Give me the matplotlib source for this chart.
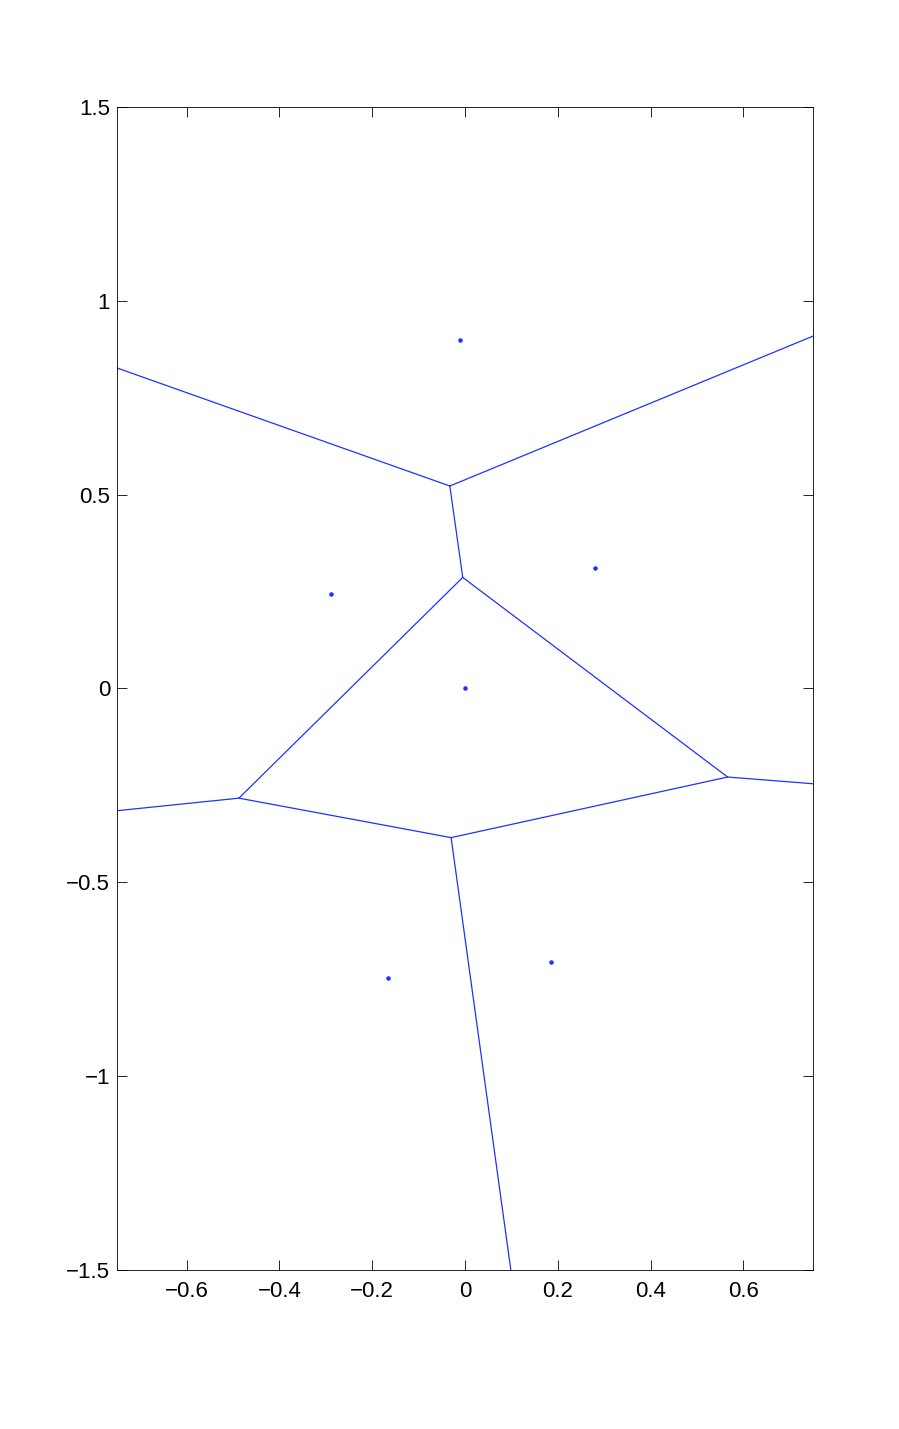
import matplotlib
matplotlib.use("Agg")
import matplotlib.pyplot as plt
import numpy as np
from itertools import combinations

# Voronoi sites
site_x = [0.0, -0.010, 0.2805, -0.288, -0.166, 0.185]
site_y = [0.0, 0.899, 0.311, 0.244, -0.746, -0.7055]

x_ticks = [-0.6, -0.4, -0.2, 0, 0.2, 0.4, 0.6]
y_ticks = [-1.5, -1, -0.5, 0, 0.5, 1, 1.5]


def circumcenter(a, b, c):
    d = 2 * (a[0] * (b[1] - c[1]) + b[0] * (c[1] - a[1]) + c[0] * (a[1] - b[1]))
    ux = ((a @ a) * (b[1] - c[1]) + (b @ b) * (c[1] - a[1]) + (c @ c) * (a[1] - b[1])) / d
    uy = ((a @ a) * (c[0] - b[0]) + (b @ b) * (a[0] - c[0]) + (c @ c) * (b[0] - a[0])) / d
    return np.array([ux, uy])


def voronoi_segments(pts):
    n = len(pts)
    tris, centers = [], []
    for tri in combinations(range(n), 3):
        cc = circumcenter(*pts[list(tri)])
        r = np.linalg.norm(pts[tri[0]] - cc)
        others = [m for m in range(n) if m not in tri]
        if all(np.linalg.norm(pts[m] - cc) > r - 1e-9 for m in others):
            tris.append(tri)
            centers.append(cc)

    edges = {}
    for t, tri in enumerate(tris):
        for e in combinations(sorted(tri), 2):
            edges.setdefault(e, []).append(t)

    segs = []
    for (i, j), owners in edges.items():
        if len(owners) == 2:
            segs.append((centers[owners[0]], centers[owners[1]]))
        else:
            # hull edge -> infinite ray pointing away from the triangle
            t = owners[0]
            k = [m for m in tris[t] if m not in (i, j)][0]
            d = pts[j] - pts[i]
            normal = np.array([-d[1], d[0]])
            mid = (pts[i] + pts[j]) / 2
            if normal @ (mid - pts[k]) < 0:
                normal = -normal
            normal /= np.linalg.norm(normal)
            segs.append((centers[t], centers[t] + 10 * normal))
    return segs


def fmt(v):
    return ("%g" % v).replace("-", "\u2212")


plt.rcParams["font.family"] = ["Liberation Sans", "DejaVu Sans"]
plt.rcParams["font.size"] = 16

pts = np.column_stack([site_x, site_y])
line_color = "#1e32ff"

fig = plt.figure(figsize=(8.99, 14.29), dpi=100)
ax = fig.add_axes([0.1301, 0.1113, 0.7742, 0.8139])

for p, q in voronoi_segments(pts):
    ax.plot([p[0], q[0]], [p[1], q[1]], color=line_color, linewidth=0.9)
ax.plot(site_x, site_y, ".", color=line_color, markersize=4.5)

ax.set_xlim(-0.75, 0.75)
ax.set_ylim(-1.5, 1.5)
ax.set_xticks(x_ticks)
ax.set_xticklabels([fmt(v) for v in x_ticks])
ax.set_yticks(y_ticks)
ax.set_yticklabels([fmt(v) for v in y_ticks])
ax.tick_params(direction="in", length=7, width=0.6, top=True, right=True)
ax.tick_params(axis="x", pad=8)
ax.tick_params(axis="y", pad=5)
for s in ax.spines.values():
    s.set_linewidth(0.6)

fig.savefig("out.png", dpi=100)
